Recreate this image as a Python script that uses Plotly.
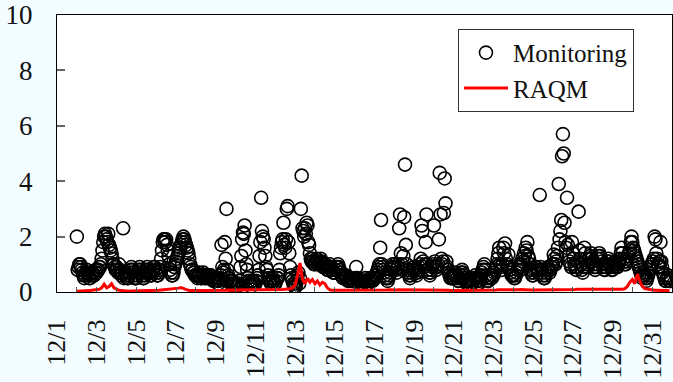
import pandas as pd
import plotly.graph_objects as go

# Hourly monitoring concentrations, one row of 24 hours per day (12/2 .. 12/31)
monitoring_by_day = [
    [2.0, 0.8, 0.9, 1.0, 1.0, 0.9, 0.8, 0.7, 0.6, 0.5, 0.6, 0.7, 0.8, 0.7, 0.6, 0.5, 0.5, 0.6, 0.7, 0.7, 0.6, 0.6, 0.7, 0.8],
    [0.7, 0.8, 0.8, 0.9, 0.9, 1.0, 1.2, 1.5, 1.8, 2.0, 2.1, 2.0, 1.9, 1.8, 2.1, 1.7, 1.6, 1.5, 1.4, 1.2, 1.0, 1.0, 0.9, 0.8],
    [0.9, 0.8, 0.7, 1.0, 0.8, 0.7, 0.6, 0.7, 2.3, 0.5, 0.6, 0.7, 0.6, 0.5, 0.5, 0.6, 0.7, 0.8, 0.9, 0.8, 0.7, 0.6, 0.5, 0.5],
    [0.5, 0.6, 0.7, 0.8, 0.9, 0.8, 0.7, 0.6, 0.5, 0.5, 0.6, 0.7, 0.8, 0.9, 0.8, 0.7, 0.7, 0.6, 0.6, 0.7, 0.8, 0.9, 0.9, 0.8],
    [0.7, 0.6, 0.6, 0.7, 0.8, 0.9, 1.2, 1.5, 1.8, 1.9, 1.9, 1.8, 1.9, 1.7, 1.5, 1.3, 1.0, 0.8, 0.7, 0.6, 0.6, 0.7, 0.9, 1.0],
    [1.1, 1.2, 1.3, 1.4, 1.5, 1.6, 1.7, 1.8, 1.9, 2.0, 1.9, 1.8, 1.7, 1.6, 1.5, 1.4, 1.2, 1.0, 0.9, 0.8, 0.8, 0.7, 0.7, 0.6],
    [0.6, 0.6, 0.5, 0.6, 0.7, 0.6, 0.5, 0.5, 0.6, 0.7, 0.6, 0.5, 0.5, 0.6, 0.6, 0.5, 0.5, 0.6, 0.6, 0.5, 0.5, 0.4, 0.4, 0.5],
    [0.4, 0.5, 0.4, 0.3, 0.4, 0.5, 0.6, 1.7, 0.9, 0.7, 0.8, 1.8, 1.2, 3.0, 0.8, 0.6, 0.5, 0.4, 0.3, 0.3, 0.4, 0.3, 0.2, 0.3],
    [0.3, 0.2, 0.2, 0.3, 0.3, 0.4, 0.9, 1.3, 1.9, 2.15, 2.1, 2.4, 1.5, 1.0, 0.8, 0.5, 0.4, 0.3, 0.3, 0.2, 0.3, 0.4, 0.3, 0.3],
    [0.3, 0.4, 0.5, 0.6, 0.8, 1.3, 1.8, 3.4, 2.2, 2.0, 1.9, 1.6, 1.3, 0.9, 0.8, 0.6, 0.5, 0.4, 0.4, 0.3, 0.4, 0.5, 0.4, 0.3],
    [0.3, 0.4, 0.5, 0.5, 0.6, 0.8, 1.4, 1.6, 1.8, 1.9, 2.5, 1.7, 1.6, 1.9, 3.0, 3.1, 1.8, 1.4, 0.9, 0.6, 0.5, 0.4, 0.3, 0.2],
    [0.3, 0.2, 0.4, 0.6, 0.7, 0.3, 0.5, 3.0, 4.2, 2.3, 2.2, 2.0, 2.3, 2.1, 2.5, 2.4, 1.8, 1.7, 1.4, 1.2, 1.1, 1.2, 1.1, 1.0],
    [1.0, 1.1, 1.2, 1.1, 1.0, 1.0, 1.1, 1.2, 1.1, 1.0, 0.9, 0.9, 1.0, 1.0, 0.9, 0.8, 0.8, 0.9, 1.0, 0.9, 0.8, 0.8, 0.7, 0.7],
    [0.7, 0.8, 0.9, 0.9, 1.0, 0.9, 0.8, 0.7, 0.6, 0.6, 0.5, 0.5, 0.6, 0.6, 0.5, 0.5, 0.4, 0.4, 0.5, 0.5, 0.4, 0.4, 0.4, 0.4],
    [0.4, 0.5, 0.9, 0.5, 0.4, 0.3, 0.3, 0.4, 0.4, 0.3, 0.3, 0.4, 0.4, 0.5, 0.4, 0.3, 0.3, 0.4, 0.4, 0.5, 0.5, 0.4, 0.4, 0.5],
    [0.5, 0.5, 0.6, 0.7, 0.8, 0.9, 1.0, 1.6, 2.6, 1.0, 0.9, 0.8, 0.7, 0.6, 0.5, 0.5, 0.4, 0.5, 0.6, 0.7, 0.8, 0.9, 1.0, 0.9],
    [0.9, 1.0, 0.8, 0.7, 0.9, 1.0, 2.3, 2.8, 1.4, 1.0, 0.8, 1.3, 2.7, 4.6, 1.7, 1.0, 0.8, 0.7, 0.6, 0.5, 0.6, 0.7, 0.8, 0.9],
    [0.9, 0.8, 0.7, 0.6, 0.7, 0.8, 0.9, 1.0, 1.2, 2.4, 2.2, 1.1, 0.9, 1.0, 1.8, 2.8, 1.0, 0.8, 0.7, 0.6, 0.7, 0.8, 0.9, 1.0],
    [2.4, 1.1, 0.9, 0.8, 0.9, 1.0, 1.9, 4.3, 2.8, 1.2, 1.0, 1.1, 2.85, 4.1, 3.2, 1.1, 0.9, 0.8, 0.7, 0.6, 0.5, 0.5, 0.6, 0.5],
    [0.5, 0.6, 0.7, 0.6, 0.5, 0.4, 0.4, 0.5, 0.6, 0.7, 0.8, 0.7, 0.6, 0.5, 0.4, 0.4, 0.3, 0.3, 0.4, 0.5, 0.4, 0.3, 0.3, 0.4],
    [0.4, 0.5, 0.6, 0.5, 0.4, 0.3, 0.3, 0.4, 0.5, 0.6, 0.7, 0.8, 0.9, 1.0, 0.8, 0.6, 0.5, 0.4, 0.4, 0.5, 0.6, 0.5, 0.5, 0.6],
    [0.6, 0.7, 0.8, 0.9, 1.0, 1.2, 1.4, 1.6, 1.0, 0.9, 0.8, 1.0, 1.6, 1.4, 1.75, 1.2, 1.0, 0.9, 1.35, 0.9, 0.8, 0.7, 0.6, 0.6],
    [0.6, 0.5, 0.5, 0.6, 0.7, 0.8, 0.9, 1.0, 0.9, 0.8, 1.0, 1.2, 1.1, 1.4, 1.3, 1.6, 1.5, 1.8, 1.3, 1.2, 1.0, 0.8, 0.7, 0.6],
    [0.6, 0.7, 0.8, 0.9, 0.9, 0.8, 0.7, 0.8, 3.5, 0.9, 0.8, 0.7, 0.6, 0.5, 0.5, 0.6, 0.7, 0.8, 0.9, 0.8, 0.7, 0.8, 0.9, 1.0],
    [1.0, 1.35, 1.2, 1.0, 1.1, 1.3, 1.6, 3.9, 1.9, 2.2, 2.6, 4.9, 5.7, 5.0, 2.5, 1.8, 1.6, 3.4, 1.7, 1.3, 1.1, 1.0, 0.9, 1.8],
    [1.4, 1.2, 1.0, 0.9, 0.8, 0.9, 1.1, 2.9, 1.5, 1.2, 1.0, 0.8, 0.7, 0.9, 1.6, 1.4, 1.2, 1.0, 0.9, 1.0, 1.2, 1.3, 1.4, 1.2],
    [1.1, 1.0, 0.9, 0.8, 0.9, 1.0, 1.2, 1.3, 1.4, 1.3, 1.2, 1.1, 1.0, 0.9, 0.8, 0.8, 0.9, 1.0, 1.1, 1.2, 1.1, 1.0, 0.9, 0.8],
    [0.8, 0.9, 1.0, 1.1, 1.0, 0.9, 0.9, 1.0, 1.1, 1.2, 1.4, 1.6, 1.4, 1.2, 1.1, 1.0, 1.0, 1.1, 1.2, 1.3, 1.4, 1.5, 1.8, 2.0],
    [1.8, 1.6, 1.5, 1.4, 1.3, 1.2, 1.1, 1.0, 0.9, 0.8, 0.7, 0.6, 0.5, 0.6, 0.7, 0.6, 0.5, 0.4, 0.5, 0.6, 0.7, 0.8, 0.9, 1.0],
    [1.0, 1.1, 1.2, 2.0, 1.9, 1.4, 1.2, 1.0, 0.9, 1.1, 1.8, 1.1, 0.9, 0.7, 0.6, 0.5, 0.4, 0.4, 0.5, 0.6, 0.5, 0.4, 0.4, 0.5],
]

# RAQM model output, 3-hourly (00, 03, ..., 21 h) for 12/2 .. 12/31
raqm_by_day = [
    [0.03, 0.03, 0.04, 0.04, 0.05, 0.05, 0.06, 0.07],
    [0.08, 0.10, 0.15, 0.28, 0.15, 0.20, 0.30, 0.15],
    [0.10, 0.06, 0.05, 0.04, 0.04, 0.03, 0.04, 0.04],
    [0.04, 0.04, 0.05, 0.05, 0.05, 0.05, 0.05, 0.06],
    [0.06, 0.06, 0.07, 0.08, 0.08, 0.09, 0.10, 0.10],
    [0.12, 0.14, 0.16, 0.12, 0.08, 0.06, 0.05, 0.05],
    [0.05, 0.04, 0.04, 0.05, 0.05, 0.06, 0.06, 0.06],
    [0.06, 0.05, 0.05, 0.06, 0.06, 0.07, 0.06, 0.06],
    [0.06, 0.07, 0.07, 0.08, 0.07, 0.07, 0.08, 0.08],
    [0.08, 0.08, 0.07, 0.07, 0.08, 0.09, 0.08, 0.08],
    [0.08, 0.09, 0.08, 0.09, 0.10, 0.10, 0.12, 0.15],
    [0.25, 0.60, 1.05, 0.45, 0.30, 0.50, 0.35, 0.45],
    [0.30, 0.40, 0.25, 0.35, 0.30, 0.15, 0.08, 0.06],
    [0.06, 0.05, 0.05, 0.05, 0.05, 0.05, 0.05, 0.05],
    [0.05, 0.05, 0.06, 0.06, 0.05, 0.05, 0.06, 0.06],
    [0.06, 0.07, 0.07, 0.06, 0.06, 0.07, 0.08, 0.07],
    [0.07, 0.07, 0.08, 0.08, 0.07, 0.07, 0.06, 0.06],
    [0.06, 0.07, 0.07, 0.08, 0.08, 0.07, 0.07, 0.06],
    [0.06, 0.06, 0.07, 0.07, 0.06, 0.06, 0.06, 0.05],
    [0.05, 0.05, 0.06, 0.06, 0.05, 0.05, 0.05, 0.05],
    [0.05, 0.06, 0.06, 0.07, 0.07, 0.06, 0.06, 0.06],
    [0.06, 0.07, 0.08, 0.08, 0.07, 0.07, 0.07, 0.06],
    [0.06, 0.07, 0.08, 0.09, 0.08, 0.08, 0.07, 0.07],
    [0.07, 0.07, 0.08, 0.08, 0.07, 0.07, 0.08, 0.08],
    [0.08, 0.08, 0.09, 0.09, 0.08, 0.08, 0.09, 0.09],
    [0.09, 0.09, 0.10, 0.10, 0.09, 0.09, 0.08, 0.08],
    [0.08, 0.08, 0.09, 0.09, 0.08, 0.08, 0.08, 0.08],
    [0.08, 0.08, 0.09, 0.10, 0.10, 0.12, 0.20, 0.35],
    [0.45, 0.30, 0.65, 0.40, 0.20, 0.12, 0.10, 0.08],
    [0.07, 0.06, 0.06, 0.05, 0.05, 0.05, 0.05, 0.05],
]

series_names = ["Monitoring", "RAQM"]
y_ticks = [0, 2, 4, 6, 8, 10]

monitoring = [v for day in monitoring_by_day for v in day]
raqm = [v for day in raqm_by_day for v in day]

t_hourly = pd.date_range("2013-12-02 00:00", periods=len(monitoring), freq="h")
t_model = pd.date_range("2013-12-02 00:00", periods=len(raqm), freq="3h")

FONT = "Liberation Serif"

fig = go.Figure()
fig.add_trace(go.Scatter(
    x=t_hourly, y=monitoring, mode="markers", name=series_names[0],
    marker=dict(symbol="circle-open", size=13, color="black",
                line=dict(width=1.6, color="black")),
))
fig.add_trace(go.Scatter(
    x=t_model, y=raqm, mode="lines", name=series_names[1],
    line=dict(color="#ff0000", width=3),
))

fig.update_layout(
    width=673, height=382,
    margin=dict(l=57, r=1, t=15, b=90),
    paper_bgcolor="#f3fcfe",
    plot_bgcolor="white",
    font=dict(family=FONT, color="#111", size=24),
    showlegend=True,
    legend=dict(
        x=0.652, y=0.95, xanchor="left", yanchor="top",
        bgcolor="white", bordercolor="#333", borderwidth=1,
        font=dict(family=FONT, size=25, color="#111"),
        itemwidth=44, tracegroupgap=0,
    ),
)

fig.update_xaxes(
    type="date",
    range=["2013-12-01 00:00", "2014-01-01 00:00"],
    dtick=2 * 86400000, tick0="2013-12-01",
    tickformat="%-m/%-d", tickangle=-90,
    tickfont=dict(family=FONT, size=26, color="#111"),
    ticks="inside", ticklen=5, tickcolor="#555", tickwidth=1,
    minor=dict(dtick=86400000, ticks="inside", ticklen=5, tickcolor="#555"),
    ticklabelstandoff=16,
    showgrid=False, zeroline=False,
    showline=True, linecolor="black", linewidth=1.2, mirror=True,
)
fig.update_yaxes(
    range=[0, 10], tickvals=y_ticks,
    tickfont=dict(family=FONT, size=27, color="#111"),
    ticks="inside", ticklen=8, tickcolor="#666", tickwidth=1.5,
    ticklabelstandoff=18,
    showgrid=False, zeroline=False,
    showline=True, linecolor="black", linewidth=1.2, mirror=True,
)

fig.write_html("out.html")
